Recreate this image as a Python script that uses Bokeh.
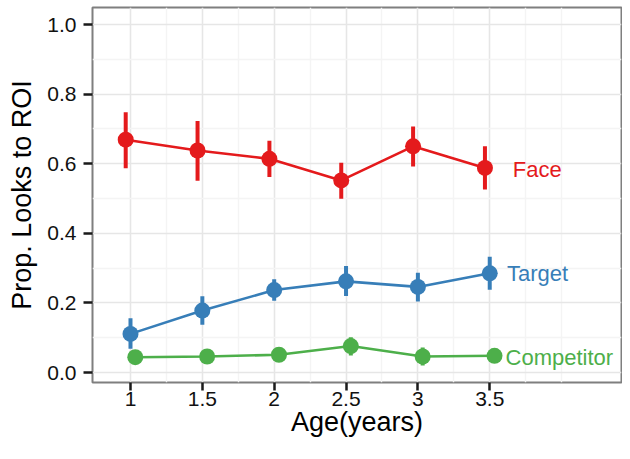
from bokeh.plotting import figure
from bokeh.models import FixedTicker, Range1d, ColumnDataSource
from bokeh.core.properties import value
from bokeh.embed import file_html
from bokeh.resources import INLINE

# ---- data ----
ages = [1, 1.5, 2, 2.5, 3, 3.5]
x_tick_labels = ["1", "1.5", "2", "2.5", "3", "3.5"]
y_ticks = [0.0, 0.2, 0.4, 0.6, 0.8, 1.0]
y_tick_labels = ["0.0", "0.2", "0.4", "0.6", "0.8", "1.0"]

series_names = ["Face", "Target", "Competitor"]
face_mean = [0.669, 0.638, 0.614, 0.552, 0.650, 0.588]
face_lo = [0.587, 0.551, 0.562, 0.499, 0.592, 0.526]
face_hi = [0.748, 0.723, 0.666, 0.603, 0.707, 0.650]
target_mean = [0.111, 0.178, 0.237, 0.262, 0.246, 0.285]
target_lo = [0.068, 0.137, 0.206, 0.220, 0.204, 0.238]
target_hi = [0.156, 0.219, 0.268, 0.306, 0.287, 0.333]
comp_mean = [0.044, 0.046, 0.051, 0.076, 0.046, 0.048]
comp_lo = [0.034, 0.036, 0.040, 0.049, 0.020, 0.038]
comp_hi = [0.054, 0.056, 0.062, 0.101, 0.072, 0.058]

# label positions (data space)
label_x = [3.66, 3.62, 3.61]
label_y = [0.583, 0.285, 0.044]

dodge = [-0.0333, 0.0, 0.0333]
colors = ["#E41A1C", "#377EB8", "#4DAF4A"]

FONT = "Liberation Sans"

p = figure(width=622, height=443, output_backend="svg", toolbar_location=None,
           x_range=Range1d(0.7356, 4.417), y_range=Range1d(-0.0287, 1.0489),
           min_border_left=92, min_border_right=1, min_border_top=7, min_border_bottom=61)

p.background_fill_color = "white"
p.border_fill_color = "white"
p.outline_line_color = "#7F7F7F"
p.outline_line_width = 2

# axes
p.xaxis.ticker = FixedTicker(ticks=ages, minor_ticks=[1.25, 1.75, 2.25, 2.75, 3.25, 3.75, 4.0])
p.yaxis.ticker = FixedTicker(ticks=y_ticks, minor_ticks=[0.1, 0.3, 0.5, 0.7, 0.9])
p.xaxis.major_label_overrides = {a: l for a, l in zip(ages, x_tick_labels)}
p.yaxis.major_label_overrides = {a: l for a, l in zip(y_ticks, y_tick_labels)}

for ax in (p.xaxis, p.yaxis):
    ax.axis_line_color = None
    ax.major_tick_line_color = "#1a1a1a"
    ax.major_tick_line_width = 2.5
    ax.major_tick_in = 0
    ax.minor_tick_line_color = None
    ax.major_label_text_font = FONT
    ax.major_label_text_font_size = "21px"
    ax.major_label_text_color = "#111111"
    ax.axis_label_text_font = FONT
    ax.axis_label_text_font_size = "27px"
    ax.axis_label_text_font_style = "normal"
    ax.axis_label_text_color = "#000000"

p.xaxis.axis_label = "Age(years)"
p.yaxis.axis_label = "Prop. Looks to ROI"
p.xaxis.major_tick_out = 8
p.yaxis.major_tick_out = 9
p.xaxis.major_label_standoff = 1
p.xaxis.axis_label_standoff = -2
p.yaxis.major_label_standoff = 7
p.yaxis.axis_label_standoff = 7

# grid
for g in (p.xgrid, p.ygrid):
    g.grid_line_color = "#E6E6E6"
    g.grid_line_width = 1.6
    g.minor_grid_line_color = "#F4F4F4"
    g.minor_grid_line_width = 1.4

means = [face_mean, target_mean, comp_mean]
los = [face_lo, target_lo, comp_lo]
his = [face_hi, target_hi, comp_hi]

for name, m, lo, hi, d, c in zip(series_names, means, los, his, dodge, colors):
    xs = [a + d for a in ages]
    src = ColumnDataSource(dict(x=xs, y=m, lo=lo, hi=hi))
    p.line("x", "y", source=src, line_color=c, line_width=2.6)
    p.segment(x0="x", y0="lo", x1="x", y1="hi", source=src, line_color=c, line_width=4)
    p.scatter("x", "y", source=src, size=16, fill_color=c, line_color=c, line_width=0)

lab_src = ColumnDataSource(dict(x=label_x, y=label_y, text=series_names, color=colors))
p.text(x="x", y="y", text="text", source=lab_src, text_color="color",
       text_font=value(FONT), text_font_size="22px",
       text_align="left", text_baseline="middle")

open("out.html", "w").write(file_html(p, INLINE))
